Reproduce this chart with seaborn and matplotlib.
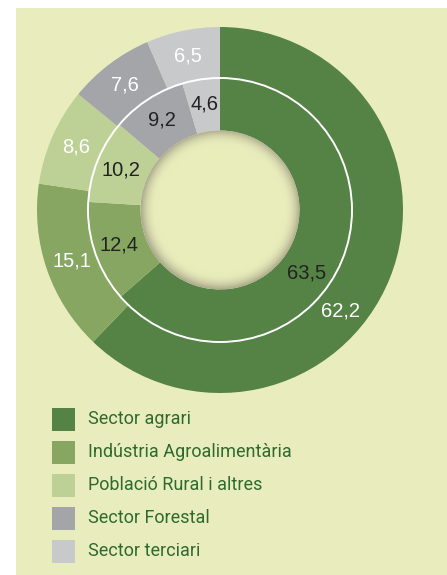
import numpy as np
import matplotlib
matplotlib.use("Agg")
import matplotlib.pyplot as plt
import seaborn as sns
from matplotlib.patches import Rectangle, Circle

# Data
categories = ["Sector agrari", "Indústria Agroalimentària", "Població Rural i altres",
              "Sector Forestal", "Sector terciari"]
outer_vals = [62.2, 15.1, 8.6, 7.6, 6.5]
inner_vals = [63.5, 12.4, 10.2, 9.2, 4.6]
outer_labels = ["62,2", "15,1", "8,6", "7,6", "6,5"]
inner_labels = ["63,5", "12,4", "10,2", "9,2", "4,6"]
# where along each slice the label sits (0.5 = middle)
outer_label_pos = [0.58, 0.5, 0.5, 0.5, 0.5]
inner_label_pos = [0.55, 0.5, 0.5, 0.5, 0.5]

colors = ["#558245", "#86a661", "#bdd197", "#a4a5a9", "#c8c9cb"]
bg = "#e9edbd"
legend_text = "#2e6a30"

sns.set_theme(style="white")
plt.rcParams['font.family'] = ['Liberation Sans', 'DejaVu Sans']

W, H = 447, 575
fig = plt.figure(figsize=(W / 100, H / 100), dpi=100, facecolor="white")
ax = fig.add_axes([0, 0, 1, 1])

# panel background
ax.add_patch(Rectangle((16, 0), W - 16, H - 8, facecolor=bg, edgecolor="none", zorder=0))

cx, cy = 220, H - 210
r_out, r_mid, r_in = 183, 132, 79.5

ax.pie(outer_vals, radius=r_out, center=(cx, cy), startangle=90, counterclock=False,
       colors=colors, wedgeprops=dict(width=r_out - r_mid, edgecolor="none"))
ax.pie(inner_vals, radius=r_mid, center=(cx, cy), startangle=90, counterclock=False,
       colors=colors, wedgeprops=dict(width=r_mid - r_in, edgecolor="none"))

# white separator between rings
ax.add_patch(Circle((cx, cy), r_mid, facecolor="none", edgecolor="white", lw=1.4, zorder=5))


def put_labels(vals, labels, pos, radius, color):
    total = sum(vals)
    start = 0
    for v, lab, p in zip(vals, labels, pos):
        frac = (start + v * p) / total
        ang = np.deg2rad(90 - frac * 360)
        ax.text(cx + radius * np.cos(ang), cy + radius * np.sin(ang), lab,
                ha="center", va="center", fontsize=14.5, color=color, zorder=6)
        start += v


put_labels(outer_vals, outer_labels, outer_label_pos, 157, "white")
put_labels(inner_vals, inner_labels, inner_label_pos, 107, "#222222")

# shaded hole in the middle
n = 300
xs = np.linspace(-1, 1, n)
xx, yy = np.meshgrid(xs, xs)
rr = np.sqrt(xx ** 2 + yy ** 2)
t = np.clip((rr - 0.8) / 0.2, 0, 1) ** 2.2
c0 = np.array(matplotlib.colors.to_rgb("#e9edbb"))
c1 = np.array(matplotlib.colors.to_rgb("#aeac8e"))
img = c0[None, None, :] * (1 - t[..., None]) + c1[None, None, :] * t[..., None]
im = ax.imshow(img, extent=(cx - r_in, cx + r_in, cy - r_in, cy + r_in), zorder=7,
               interpolation="bilinear")
im.set_clip_path(Circle((cx, cy), r_in, transform=ax.transData))

# legend
for i, (cat, col) in enumerate(zip(categories, colors)):
    yc = H - (419 + 33 * i)
    ax.add_patch(Rectangle((52, yc - 11.5), 23, 23, facecolor=col, edgecolor="none", zorder=3))
    ax.text(88, yc, cat, ha="left", va="center", fontsize=13, color=legend_text,
            family=['Roboto', 'DejaVu Sans'])

ax.set_xlim(0, W)
ax.set_ylim(0, H)
ax.set_aspect("equal")
ax.axis("off")

fig.savefig("out.png", dpi=100, facecolor="white")
